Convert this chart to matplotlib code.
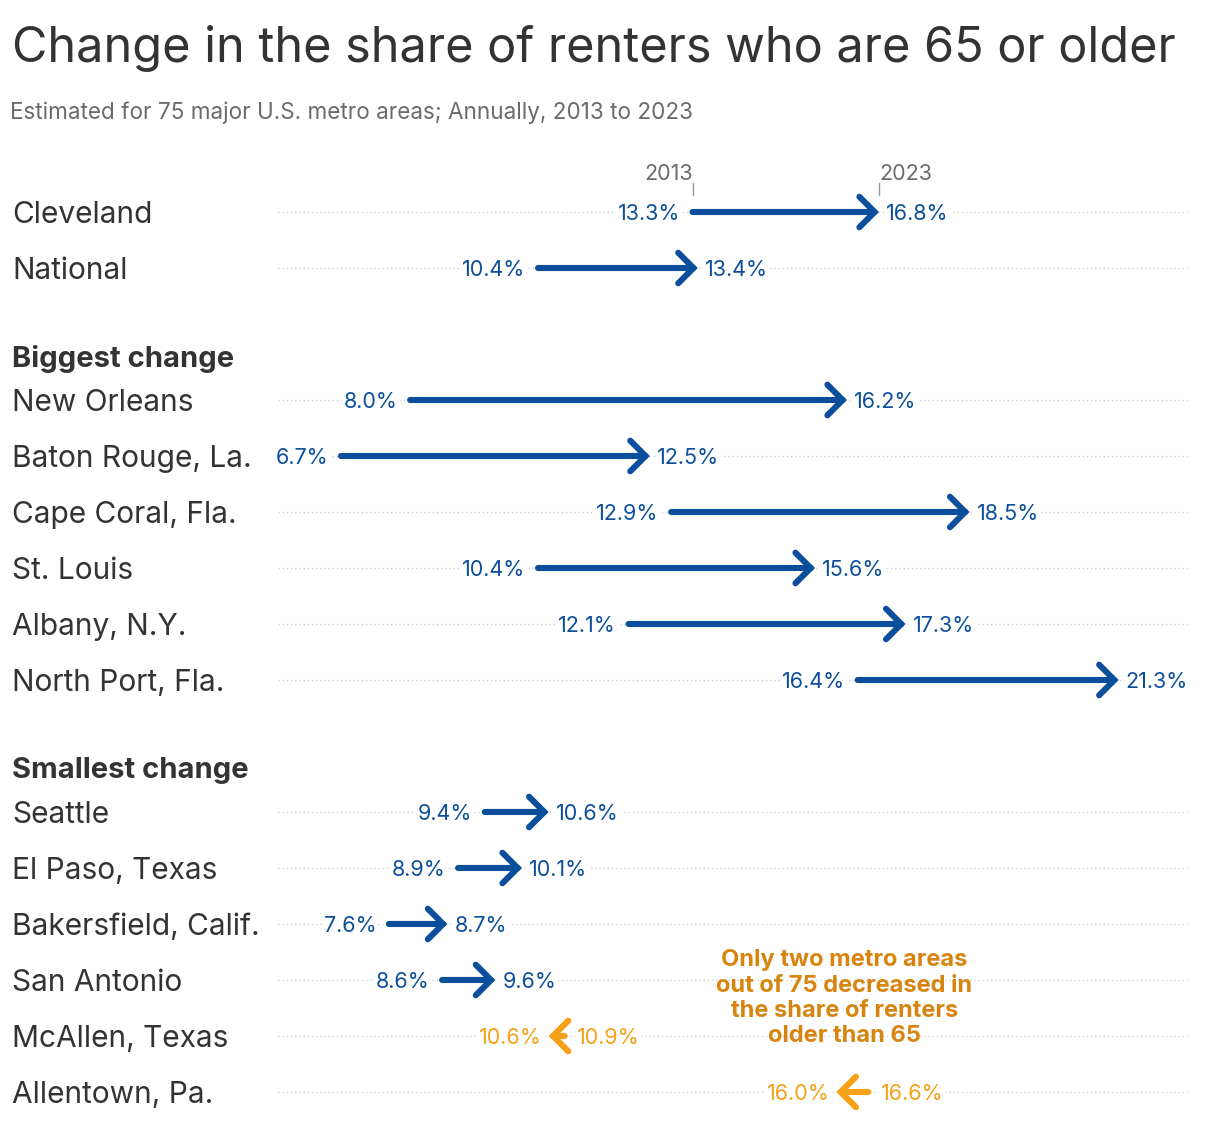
#!/usr/bin/env python3
"""Arrow chart: change in the share of renters who are 65 or older."""

import matplotlib
matplotlib.use("Agg")
import matplotlib.pyplot as plt
from matplotlib.transforms import blended_transform_factory

# ---------------------------------------------------------------------------
# Data
# ---------------------------------------------------------------------------

TOP_NAMES = ["Cleveland", "National"]
TOP_2013 = [13.3, 10.4]
TOP_2023 = [16.8, 13.4]

BIG_NAMES = ["New Orleans", "Baton Rouge, La.", "Cape Coral, Fla.",
             "St. Louis", "Albany, N.Y.", "North Port, Fla."]
BIG_2013 = [8.0, 6.7, 12.9, 10.4, 12.1, 16.4]
BIG_2023 = [16.2, 12.5, 18.5, 15.6, 17.3, 21.3]

SMALL_NAMES = ["Seattle", "El Paso, Texas", "Bakersfield, Calif.",
               "San Antonio", "McAllen, Texas", "Allentown, Pa."]
SMALL_2013 = [9.4, 8.9, 7.6, 8.6, 10.9, 16.6]
SMALL_2023 = [10.6, 10.1, 8.7, 9.6, 10.6, 16.0]

# ---------------------------------------------------------------------------
# Style
# ---------------------------------------------------------------------------

BLUE = "#0b4f9c"
ORANGE = "#f5a016"
NOTE_ORANGE = "#d8850f"
DARK = "#333333"
GRAY = "#6b6b6b"
FONT = ["Inter", "DejaVu Sans"]

W, H = 1220, 1124
ROW_PX = 56
FIRST_ROW_PX = 212
GAP = 2.357  # extra space before each titled group, in rows


def main():
    plt.rcParams["font.family"] = FONT
    fig = plt.figure(figsize=(W / 100, H / 100), dpi=100)
    ax = fig.add_axes([278 / W, 0, 910 / W, 1])
    ax.set_xlim(5.52, 22.6)
    ax.set_ylim((H - FIRST_ROW_PX) / ROW_PX, -FIRST_ROW_PX / ROW_PX)
    ax.axis("off")

    label_tf = blended_transform_factory(fig.transFigure, ax.transData)

    rows = []
    y = 0.0
    for n, s, e in zip(TOP_NAMES, TOP_2013, TOP_2023):
        rows.append((n, s, e, y))
        y += 1
    headers = []
    for title, names, a, b in [("Biggest change", BIG_NAMES, BIG_2013, BIG_2023),
                               ("Smallest change", SMALL_NAMES, SMALL_2013, SMALL_2023)]:
        y += GAP - 1
        headers.append((title, y - 0.786))
        for n, s, e in zip(names, a, b):
            rows.append((n, s, e, y))
            y += 1

    for title, hy in headers:
        ax.text(12 / W, hy, title, transform=label_tf, fontsize=21,
                fontweight="bold", color=DARK, va="center_baseline", ha="left")

    for name, start, end, ry in rows:
        color = BLUE if end > start else ORANGE
        ax.axhline(ry, color="#cfcfcf", lw=1, ls=(0, (1, 2)), zorder=1)
        ax.text(12 / W, ry, name, transform=label_tf, fontsize=21.5,
                color=DARK, va="center_baseline", ha="left")
        ax.annotate("", xy=(end, ry), xytext=(start, ry),
                    arrowprops=dict(arrowstyle="->,head_length=0.55,head_width=0.55",
                                    color=color, lw=4.4, shrinkA=0, shrinkB=0,
                                    mutation_scale=20, capstyle="round",
                                    joinstyle="miter"),
                    zorder=3)
        sign = 1 if end > start else -1
        bbox = dict(boxstyle="square,pad=0.1", fc="white", ec="none")
        ax.annotate(f"{start:.1f}%", xy=(start, ry), xytext=(-9 * sign, 0),
                    textcoords="offset points", ha="right" if sign > 0 else "left",
                    va="center_baseline", fontsize=15.5, color=color, bbox=bbox, zorder=4)
        ax.annotate(f"{end:.1f}%", xy=(end, ry), xytext=(5 * sign, 0),
                    textcoords="offset points", ha="left" if sign > 0 else "right",
                    va="center_baseline", fontsize=15.5, color=color, bbox=bbox, zorder=4)

    # year markers above the first row
    first = rows[0]
    for val, yr in [(first[1], "2013"), (first[2], "2023")]:
        ax.plot([val, val], [-0.52, -0.30], color="#999999", lw=1, zorder=2)
        ax.text(val, -0.72, yr, ha="left" if yr == "2023" else "right",
                va="center_baseline", fontsize=15.5, color=GRAY)

    ax.text(16.15, 14.04, "Only two metro areas\nout of 75 decreased in\n"
            "the share of renters\nolder than 65", ha="center", va="center",
            fontsize=17, fontweight="bold", color=NOTE_ORANGE, linespacing=1.2)

    fig.text(12 / W, 1 - 62 / H, "Change in the share of renters who are 65 or older",
             fontsize=35, color=DARK, ha="left", va="baseline")
    fig.text(10 / W, 1 - 119 / H, "Estimated for 75 major U.S. metro areas; Annually, 2013 to 2023",
             fontsize=16.2, color=GRAY, ha="left", va="baseline")

    fig.savefig("out.png", dpi=100)


if __name__ == "__main__":
    main()
